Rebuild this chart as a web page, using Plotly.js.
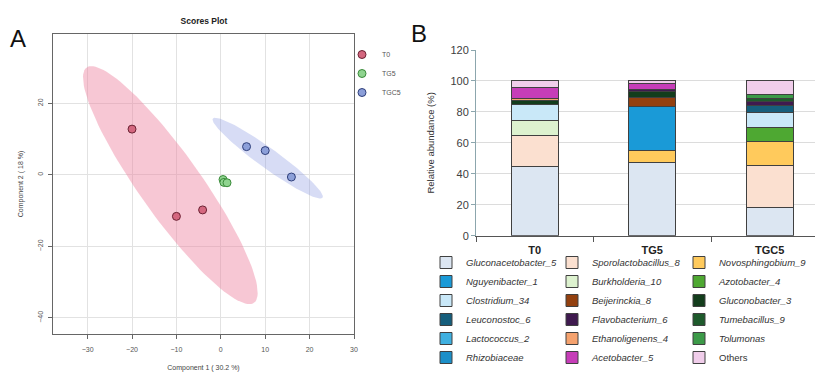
<!DOCTYPE html>
<html><head><meta charset="utf-8">
<script src="https://cdn.plot.ly/plotly-3.0.1.min.js"></script>
<style>html,body{margin:0;padding:0;background:#fff;} #chart{width:815px;height:372px;}</style>
</head><body><div id="chart"></div>
<script>
// ---------- Panel A: PLS-DA scores ----------
const groupNames = ['T0', 'TG5', 'TGC5'];
const t0X = [-20, -10, -4.1];
const t0Y = [12.8, -11.6, -9.8];
const tg5X = [0.5, 0.7, 1.4];
const tg5Y = [-1.3, -2.1, -2.2];
const tgc5X = [5.8, 10, 15.9];
const tgc5Y = [7.9, 6.8, -0.6];

// ---------- Panel B: relative abundance ----------
const samples = ['T0', 'TG5', 'TGC5'];
const taxa = ['Gluconacetobacter_5', 'Sporolactobacillus_8', 'Novosphingobium_9',
  'Nguyenibacter_1', 'Burkholderia_10', 'Azotobacter_4',
  'Clostridium_34', 'Beijerinckia_8', 'Gluconobacter_3',
  'Leuconostoc_6', 'Flavobacterium_6', 'Tumebacillus_9',
  'Lactococcus_2', 'Ethanoligenens_4', 'Tolumonas',
  'Rhizobiaceae', 'Acetobacter_5', 'Others'];
const abundT0   = [44.7, 20.1, 0,    0,    9.8, 0,   10.2, 0,   2.6, 0,   0,   0,   0, 1.0, 0,   0, 7.5, 4.1];
const abundTG5  = [47.3, 0,    7.8,  28.3, 0,   0,   0,    5.6, 3.9, 0,   1.7, 0,   0, 0,   0,   0, 3.7, 1.7];
const abundTGC5 = [18.4, 27.2, 15.5, 0,    0,   8.6, 9.6,  0,   0,   5.0, 2.3, 1.8, 0, 0,   3.1, 0, 0,   8.5];

// styles
const groupFill = ['#d4677f', '#8fd48f', '#8c9fd9'];
const groupLine = ['#6b2233', '#3a8a3a', '#2f3f7a'];
const ellipseFill = ['rgba(238,130,160,0.45)', 'rgba(120,200,120,0.45)', 'rgba(140,155,225,0.35)'];
const taxaColors = ['#dce6f2', '#fbe0d0', '#ffca5c',
  '#1a9ad7', '#ddf2cf', '#4ea832',
  '#c9e8f8', '#93400f', '#133d1c',
  '#165e7c', '#3f1a4f', '#1e5a2c',
  '#3fb0e0', '#f5a26e', '#3c9a48',
  '#1c8fc8', '#c63db8', '#f0cdea'];

function confEllipse(xs, ys, n) {
  const m = xs.length;
  const mx = xs.reduce((a, b) => a + b, 0) / m;
  const my = ys.reduce((a, b) => a + b, 0) / m;
  let sxx = 0, syy = 0, sxy = 0;
  for (let i = 0; i < m; i++) {
    sxx += (xs[i] - mx) ** 2; syy += (ys[i] - my) ** 2; sxy += (xs[i] - mx) * (ys[i] - my);
  }
  sxx /= (m - 1); syy /= (m - 1); sxy /= (m - 1);
  const tr = sxx + syy, det = sxx * syy - sxy * sxy;
  const disc = Math.sqrt(Math.max(tr * tr / 4 - det, 0));
  const l1 = tr / 2 + disc, l2 = Math.max(tr / 2 - disc, 0);
  let vx, vy;
  if (Math.abs(sxy) > 1e-12) { vx = l1 - syy; vy = sxy; }
  else if (sxx >= syy) { vx = 1; vy = 0; } else { vx = 0; vy = 1; }
  const nr = Math.hypot(vx, vy); vx /= nr; vy /= nr;
  const t = Math.sqrt(-2 * Math.log(0.05));
  const ex = [], ey = [];
  for (let i = 0; i <= n; i++) {
    const th = 2 * Math.PI * i / n;
    const a = t * Math.sqrt(l1) * Math.cos(th), b = t * Math.sqrt(l2) * Math.sin(th);
    ex.push(mx + a * vx - b * vy);
    ey.push(my + a * vy + b * vx);
  }
  return [ex, ey];
}

const groupsX = [t0X, tg5X, tgc5X];
const groupsY = [t0Y, tg5Y, tgc5Y];
const traces = [];
groupsX.forEach((gx, g) => {
  const [ex, ey] = confEllipse(gx, groupsY[g], 120);
  traces.push({type: 'scatter', mode: 'lines', x: ex, y: ey, fill: 'toself',
    fillcolor: ellipseFill[g], line: {width: 0}, hoverinfo: 'skip', showlegend: false,
    xaxis: 'x', yaxis: 'y'});
});
groupsX.forEach((gx, g) => {
  traces.push({type: 'scatter', mode: 'markers', x: gx, y: groupsY[g], name: groupNames[g],
    marker: {size: 8, color: groupFill[g], line: {color: groupLine[g], width: 1}},
    xaxis: 'x', yaxis: 'y', legend: 'legend'});
});
const sampleAbund = [abundT0, abundTG5, abundTGC5];
taxa.forEach((name, i) => {
  traces.push({type: 'bar', x: samples, y: sampleAbund.map(s => s[i]),
    name: name === 'Others' ? name : '<i>' + name + '</i>',
    marker: {color: taxaColors[i], line: {color: '#404040', width: 1}},
    width: 0.4, xaxis: 'x2', yaxis: 'y2', legend: ['legend2', 'legend3', 'legend4'][i % 3]});
});

const W = 815, H = 372;
const px = v => v / W, py = v => 1 - v / H;
const fontFam = 'Liberation Sans, Arial, sans-serif';
const legB = (x) => ({x: px(x), y: 0, xanchor: 'left', yanchor: 'bottom', traceorder: 'normal',
  font: {size: 9.5, color: '#333', family: fontFam}, bgcolor: 'rgba(0,0,0,0)', tracegroupgap: 0});

const layout = {
  width: W, height: H, margin: {l: 0, r: 0, t: 0, b: 0},
  paper_bgcolor: '#fff', plot_bgcolor: '#fff', barmode: 'stack',
  font: {family: fontFam},
  title: {text: '<b>Scores Plot</b>', x: px(204), y: py(21), xanchor: 'center', yanchor: 'middle',
    font: {size: 8.5, color: '#222'}},
  xaxis: {domain: [px(53), px(354)], range: [-37.8, 30], dtick: 10, tick0: 0, anchor: 'y',
    showgrid: true, gridcolor: '#e2e2e2', zeroline: false, showline: true, mirror: true,
    linecolor: '#666', linewidth: 1, ticks: 'outside', ticklen: 4, tickcolor: '#666',
    ticklabelstandoff: 5, tickfont: {size: 7, color: '#555'},
    title: {text: 'Component 1 ( 30.2 %)', font: {size: 7, color: '#444'}, standoff: 13}},
  yaxis: {domain: [py(334), py(34)], range: [-44.5, 39.4], dtick: 20, tick0: 0, anchor: 'x',
    showgrid: true, gridcolor: '#e2e2e2', zeroline: false, showline: true, mirror: true,
    linecolor: '#666', linewidth: 1, ticks: 'outside', ticklen: 4, tickcolor: '#666',
    ticklabelstandoff: 2, tickangle: -90, tickfont: {size: 7, color: '#555'},
    title: {text: 'Component 2 ( 18 %)', font: {size: 7, color: '#444'}, standoff: 12}},
  xaxis2: {domain: [px(476), 1], range: [-0.5, 2.385], type: 'category', anchor: 'y2',
    showgrid: false, showline: true, linecolor: '#555', linewidth: 1,
    ticks: 'outside', tickson: 'boundaries', ticklen: 5, tickcolor: '#555',
    ticklabelstandoff: 4,
    tickfont: {size: 11, color: '#222'}, tickprefix: '<b>', ticksuffix: '</b>'},
  yaxis2: {domain: [py(235.7), py(50)], range: [0, 120], dtick: 20, anchor: 'x2',
    showgrid: true, gridcolor: '#dcdcdc', zeroline: false, showline: true, linecolor: '#8ca6ad',
    ticks: 'outside', ticklen: 4, tickcolor: '#8ca6ad',
    tickfont: {size: 11, color: '#404040'},
    title: {text: 'Relative abundance (%)', font: {size: 9.5, color: '#333'}, standoff: 14}},
  legend: {x: px(342), y: py(40), xanchor: 'left', yanchor: 'top', traceorder: 'normal',
    font: {size: 7, color: '#555', family: fontFam}, bgcolor: 'rgba(0,0,0,0)'},
  legend2: legB(426), legend3: legB(552), legend4: legB(679),
  annotations: [
    {text: 'A', x: px(18), y: py(38), xref: 'paper', yref: 'paper', showarrow: false,
      xanchor: 'center', yanchor: 'middle', font: {size: 24, color: '#111', family: fontFam}},
    {text: 'B', x: px(419), y: py(33), xref: 'paper', yref: 'paper', showarrow: false,
      xanchor: 'center', yanchor: 'middle', font: {size: 24, color: '#111', family: fontFam}}
  ]
};
Plotly.newPlot('chart', traces, layout, {displayModeBar: false, staticPlot: true});
</script></body></html>
